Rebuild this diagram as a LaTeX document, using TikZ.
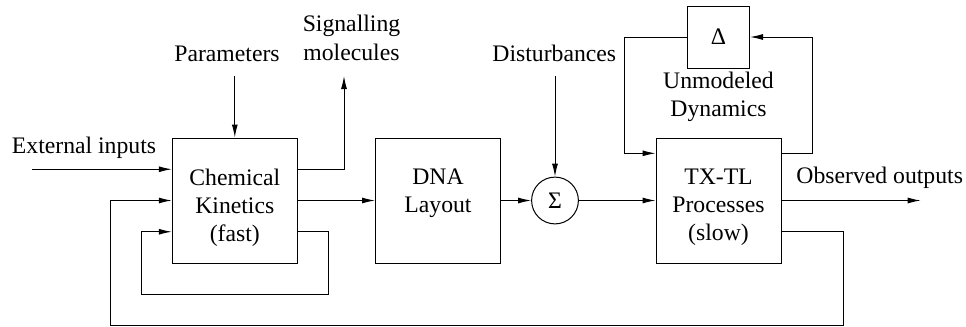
\documentclass[tikz,border=0pt]{standalone}
\usepackage{fontspec}
\setmainfont{Liberation Serif}
\usetikzlibrary{arrows.meta}

\tikzset{
  block/.style={draw, minimum width=62.5pt, minimum height=62.5pt, inner sep=0pt},
  sumnode/.style={draw, circle, minimum size=23.4pt, inner sep=0pt},
  lbl/.style={align=center, inner sep=0pt},
  blocktext/.style={lbl, anchor=north},
}

\begin{document}
\begin{tikzpicture}[x=0.5pt, y=-0.5pt, line width=0.5pt,
    >={Latex[length=6.5pt,width=3pt]},
    font=\fontsize{11.85pt}{14.15pt}\selectfont]
  \useasboundingbox (0,0) rectangle (966,327);

  % Bloecke
  \node[block] (chem) at (234.8,200.5) {};
  \node[block] (dna) at (438,200.5) {};
  \node[sumnode] (sum) at (555,200.5) {Σ};
  \node[block] (txtl) at (718.5,200.5) {};
  \node[block, minimum width=31pt, minimum height=31pt] (delta) at (718.5,37) {Δ};

  \node[blocktext] (chemtxt) at ([yshift=-15.35pt]chem.north) {Chemical\\Kinetics\\(fast)};
  \node[blocktext] (dnatxt) at ([yshift=-15.35pt]dna.north) {DNA\\Layout};
  \node[blocktext] (txtltxt) at ([yshift=-15.35pt]txtl.north) {TX-TL\\Processes\\(slow)};

  % Beschriftung
  \node[lbl] (ext) at (84,148) {External inputs};
  \node[lbl] (par) at (227,54) {Parameters};
  \node[lbl] (sig) at (351.5,38) {Signalling\\molecules};
  \node[lbl] (dist) at (554.3,53.5) {Disturbances};
  \node[lbl] (unmod) at (718.5,96.5) {Unmodeled\\Dynamics};
  \node[lbl] (obs) at (879.7,178) {Observed outputs};

  \coordinate (extin) at (32,169.25);
  \coordinate (partop) at (234.8,76);
  \coordinate (sigend) at (344,76);
  \coordinate (disttop) at (555,76);
  \coordinate (out) at (920.7,200.5);

  % Signalfluss
  \draw[->] (extin) -- (extin -| chem.west);
  \draw[->] (partop) -- (chem.north);
  \draw[->] ([yshift=15.625pt]chem.east) -| (sigend);
  \draw[->] (chem) -- (dna);
  \draw[->] (dna) -- (sum);
  \draw[->] (disttop) -- (sum);
  \draw[->] (sum) -- (txtl);
  \draw[->] (txtl) -- (out);

  % Rueckfuehrungen
  \draw[->] ([yshift=23.6pt]txtl.east) -- ++(31.3,0) |- (delta.east);
  \draw[->] (delta.west) -| ([xshift=-15.5pt, yshift=23.6pt]txtl.west) -- ([yshift=23.6pt]txtl.west);
  \draw[->] ([yshift=-15.625pt]txtl.east) -| (843.3,325) -| (110,200.5) -- (chem.west);
  \draw[->] ([yshift=-15.625pt]chem.east) -| (328.3,294) -| (141.7,231.75) -- ([yshift=-15.625pt]chem.west);

\end{tikzpicture}
\end{document}
